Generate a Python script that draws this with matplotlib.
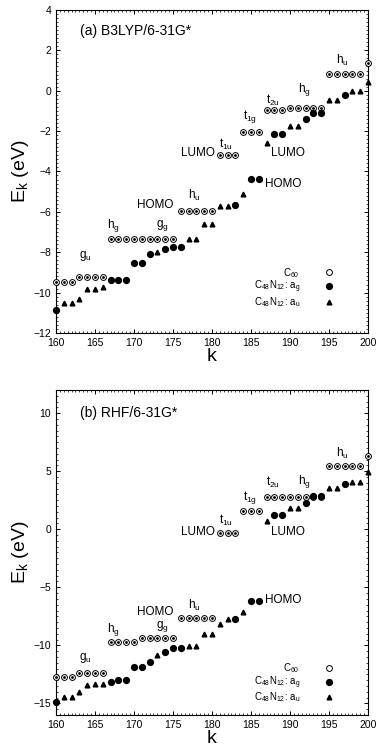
import matplotlib
matplotlib.use("Agg")
import matplotlib.pyplot as plt
from matplotlib.lines import Line2D
from matplotlib.ticker import MultipleLocator

plt.rcParams['font.family'] = ['Liberation Sans', 'DejaVu Sans']
plt.rcParams['mathtext.fontset'] = 'custom'
plt.rcParams['mathtext.rm'] = 'Liberation Sans'
plt.rcParams['mathtext.it'] = 'Liberation Sans:italic'
plt.rcParams['mathtext.default'] = 'regular'

# orbital index k for C60 levels
k_c60 = list(range(160, 201))

# (a) B3LYP/6-31G*
c60_a = [-9.48, -9.48, -9.48, -9.21, -9.21, -9.21, -9.21,
         -7.36, -7.36, -7.36, -7.36, -7.36, -7.36, -7.36, -7.36, -7.36,
         -5.98, -5.98, -5.98, -5.98, -5.98,
         -3.2, -3.2, -3.2, -2.05, -2.05, -2.05,
         -0.95, -0.95, -0.95, -0.85, -0.85, -0.85, -0.85, -0.85,
         0.85, 0.85, 0.85, 0.85, 0.85, 1.35]
k_ag_a = [160, 167, 168, 169, 170, 171, 172, 174, 175, 176, 183, 185, 186,
          188, 189, 192, 193, 194, 197]
e_ag_a = [-10.85, -9.36, -9.36, -9.36, -8.54, -8.54, -8.07, -7.84, -7.74, -7.74,
          -5.66, -4.38, -4.38, -2.16, -2.16, -1.41, -1.1, -1.1, -0.2]
k_au_a = [161, 162, 163, 164, 165, 166, 173, 177, 178, 179, 180, 181, 182, 184,
          187, 190, 191, 195, 196, 198, 199, 200]
e_au_a = [-10.52, -10.52, -10.3, -9.84, -9.84, -9.72, -7.98, -7.33, -7.33, -6.59,
          -6.59, -5.7, -5.7, -5.1, -2.59, -1.74, -1.74, -0.44, -0.44, -0.02, -0.02, 0.44]

# (b) RHF/6-31G*
c60_b = [-12.74, -12.74, -12.74, -12.4, -12.4, -12.4, -12.4,
         -9.69, -9.69, -9.69, -9.69, -9.37, -9.37, -9.37, -9.37, -9.37,
         -7.63, -7.63, -7.63, -7.63, -7.63,
         -0.34, -0.34, -0.34, 1.57, 1.57, 1.57,
         2.8, 2.8, 2.8, 2.8, 2.8, 2.8, 2.8, 2.8,
         5.46, 5.46, 5.46, 5.46, 5.46, 6.29]
k_ag_b = [160, 167, 168, 169, 170, 171, 172, 174, 175, 176, 183, 185, 186,
          188, 189, 192, 193, 194, 197]
e_ag_b = [-14.91, -13.14, -13.0, -13.0, -11.83, -11.83, -11.4, -10.57, -10.26, -10.26,
          -7.74, -6.17, -6.17, 1.23, 1.23, 2.29, 2.86, 2.86, 3.91]
k_au_b = [161, 162, 163, 164, 165, 166, 173, 177, 178, 179, 180, 181, 182, 184,
          187, 190, 191, 195, 196, 198, 199, 200]
e_au_b = [-14.46, -14.46, -14.06, -13.43, -13.31, -13.31, -10.86, -10.06, -10.06, -9.03,
          -9.03, -8.14, -7.69, -7.09, 0.71, 1.83, 1.83, 3.57, 3.57, 4.09, 4.09, 4.94]

# level labels: text, k, E, horizontal alignment
labels_a = [("g$_u$", 163.8, -8.2, "center"), ("h$_g$", 167.3, -6.7, "center"),
            ("HOMO", 172.7, -5.66, "center"), ("g$_g$", 173.7, -6.7, "center"),
            ("h$_u$", 177.7, -5.2, "center"), ("HOMO", 186.8, -4.62, "left"),
            ("LUMO", 178.2, -3.07, "center"), ("t$_{1u}$", 181.8, -2.66, "center"),
            ("t$_{1g}$", 184.9, -1.3, "center"), ("t$_{2u}$", 187.8, -0.5, "center"),
            ("LUMO", 189.7, -3.07, "center"), ("h$_g$", 191.8, 0.05, "center"),
            ("h$_u$", 196.7, 1.5, "center")]
labels_b = [("g$_u$", 163.7, -11.1, "center"), ("h$_g$", 167.3, -8.6, "center"),
            ("HOMO", 172.7, -7.15, "center"), ("g$_g$", 173.7, -8.35, "center"),
            ("h$_u$", 177.7, -6.6, "center"), ("HOMO", 186.8, -6.07, "left"),
            ("LUMO", 178.2, -0.2, "center"), ("t$_{1u}$", 181.8, 0.8, "center"),
            ("t$_{1g}$", 184.9, 2.7, "center"), ("t$_{2u}$", 187.8, 4.06, "center"),
            ("LUMO", 189.7, -0.2, "center"), ("h$_g$", 191.8, 4.1, "center"),
            ("h$_u$", 196.7, 6.5, "center")]


def c60_handle():
    return Line2D([], [], ls='none', marker='o', ms=4.2, mfc='white', mec='black', mew=0.7)


def panel(ax, c60, k_ag, e_ag, k_au, e_au, labels, title, ylim, ymajor, yminor, title_y, leg_y):
    ax.plot(k_c60, c60, 'o', ms=4.2, mfc='white', mec='black', mew=0.7, clip_on=False, zorder=3)
    ax.plot(k_c60, c60, 'o', ms=1.0, color='black', clip_on=False, zorder=4)
    ax.plot(k_ag, e_ag, 'o', ms=4.2, color='black', clip_on=False, zorder=5)
    ax.plot(k_au, e_au, '^', ms=3.4, color='black', clip_on=False, zorder=5)

    for txt, kx, ey, ha in labels:
        ax.text(kx, ey, txt, ha=ha, va='center', fontsize=8.5)
    ax.text(163.1, title_y, title, ha='left', va='center', fontsize=10)

    ax.set_xlim(160, 200)
    ax.set_ylim(*ylim)
    ax.xaxis.set_major_locator(MultipleLocator(5))
    ax.xaxis.set_minor_locator(MultipleLocator(0.5))
    ax.yaxis.set_major_locator(MultipleLocator(ymajor))
    ax.yaxis.set_minor_locator(MultipleLocator(yminor))
    ax.tick_params(which='both', direction='in', top=True, right=True, labelsize=7.5)
    ax.tick_params(which='major', length=3, width=0.7)
    ax.tick_params(which='minor', length=1.5, width=0.5)
    for s in ax.spines.values():
        s.set_linewidth(0.8)
    ax.set_xlabel('k', fontsize=14, labelpad=0)
    ax.set_ylabel('E$_k$ (eV)', fontsize=14, labelpad=2)

    handles = [c60_handle(),
               Line2D([], [], ls='none', marker='o', ms=4.2, color='black'),
               Line2D([], [], ls='none', marker='^', ms=3.4, color='black')]
    names = ['C$_{60}$', 'C$_{48}$N$_{12}$: a$_g$', 'C$_{48}$N$_{12}$: a$_u$']
    ax.legend(handles, names, loc='upper right', bbox_to_anchor=(0.894, leg_y),
              frameon=False, markerfirst=False, fontsize=7, handlelength=1.2,
              handletextpad=2.4, labelspacing=-0.05, borderpad=0, borderaxespad=0)


fig = plt.figure(figsize=(3.77, 7.53), dpi=100)
ax1 = fig.add_axes([0.1485, 0.5578, 0.8276, 0.429])
ax2 = fig.add_axes([0.1485, 0.0505, 0.8276, 0.4316])

panel(ax1, c60_a, k_ag_a, e_ag_a, k_au_a, e_au_a, labels_a, '(a) B3LYP/6-31G*',
      (-12, 4), 2, 0.2, 2.95, 0.208)
panel(ax2, c60_b, k_ag_b, e_ag_b, k_au_b, e_au_b, labels_b, '(b) RHF/6-31G*',
      (-16, 12), 5, 0.5, 10.0, 0.166)

fig.savefig('out.png', dpi=100)
